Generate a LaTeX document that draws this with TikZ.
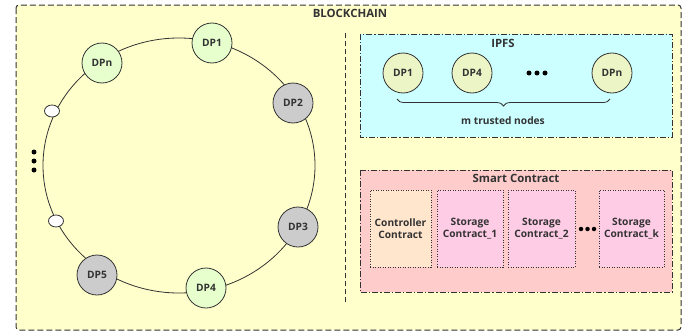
\documentclass[tikz,border=0pt]{standalone}
\usepackage{fontspec}
\setmainfont{Open Sans}
\usetikzlibrary{decorations.pathreplacing,shapes.geometric}
\definecolor{bcfill}{HTML}{FFFFCC}
\definecolor{gnode}{HTML}{E6FFCC}
\definecolor{ipnode}{HTML}{ECF5C6}
\definecolor{grnode}{HTML}{CCCCCC}
\definecolor{ipfsfill}{HTML}{CCFFFF}
\definecolor{scfill}{HTML}{FFCCCC}
\definecolor{ctrlfill}{HTML}{FFE6CC}
\definecolor{stfill}{HTML}{FFCCE6}
\definecolor{ln}{HTML}{333333}
\tikzset{
  txt/.style={font=\fontsize{10.2}{12}\selectfont\bfseries, text=ln},
  titletxt/.style={font=\fontsize{11.4}{13}\selectfont\bfseries, text=ln},
  dpnode/.style={circle, draw=ln, line width=0.8pt, minimum size=40pt, inner sep=0pt, txt},
  greennode/.style={dpnode, fill=gnode},
  graynode/.style={dpnode, fill=grnode},
  ipfsnode/.style={dpnode, fill=ipnode},
  hole/.style={ellipse, draw=ln, line width=0.8pt, fill=white, minimum width=15pt, minimum height=12pt, inner sep=0pt},
  dotmark/.style={circle, fill=black, minimum size=5pt, inner sep=0pt},
  contract/.style={draw=ln, line width=0.8pt, dash pattern=on 1pt off 1.5pt, align=center, txt, inner sep=0pt},
  groupbox/.style={draw=ln, line width=0.8pt, dash pattern=on 6pt off 2pt on 1.2pt off 2pt},
}
\begin{document}
\begin{tikzpicture}[x=1pt,y=-1pt]
\useasboundingbox (0,0) rectangle (700,332);
% outer blockchain box
\draw[fill=bcfill, draw=ln, line width=1pt, dash pattern=on 6pt off 3pt, rounded corners=3pt] (16,5) rectangle (681,330);
\node[titletxt, anchor=north] (bclabel) at (350,5.5) {BLOCKCHAIN};
% separator
\draw[draw=ln, line width=0.8pt, dash pattern=on 5pt off 3pt] (345,33) -- (345,302);
% ring
\draw[draw=ln, line width=0.8pt] (179,165.5) ellipse [x radius=136, y radius=127.5];
\node[greennode] (r1) at (212,43) {DP1};
\node[greennode] (rn) at (102,63) {DPn};
\node[graynode] (r2) at (293,103) {DP2};
\node[graynode] (r3) at (298,227) {DP3};
\node[greennode] (r4) at (206,288) {DP4};
\node[graynode] (r5) at (97,275) {DP5};
\node[hole] (h1) at (52,111) {};
\node[hole] (h2) at (56,221) {};
\node[dotmark] (ld1) at (34,152) {};
\node[dotmark] (ld2) at (34,161) {};
\node[dotmark] (ld3) at (34,170) {};
% IPFS
\draw[groupbox, fill=ipfsfill] (360,34) rectangle (672,137);
\node[titletxt] (ipfslabel) at (503,43) {IPFS};
\node[ipfsnode] (i1) at (403,73) {DP1};
\node[ipfsnode] (i4) at (472,73) {DP4};
\node[dotmark] (id1) at (529,73) {};
\node[dotmark] (id2) at (537,73) {};
\node[dotmark] (id3) at (545,73) {};
\node[ipfsnode] (in) at (612,73) {DPn};
\draw[draw=ln, line width=0.8pt, decorate, decoration={brace, mirror, amplitude=7pt}] (397,99) -- (610,99);
\node[txt] (trusted) at (503,121) {m trusted nodes};
% Smart contract
\draw[groupbox, fill=scfill] (360,170) rectangle (672,292);
\node[titletxt] (sclabel) at (516,178.5) {Smart Contract};
\node[contract, fill=ctrlfill, minimum width=61pt, minimum height=77pt] (ctrl) at (400.5,228.5) {Controller\\Contract};
\node[contract, fill=stfill, minimum width=66pt, minimum height=77pt] (s1) at (470,228.5) {Storage\\Contract\_1};
\node[contract, fill=stfill, minimum width=67pt, minimum height=77pt] (s2) at (541.5,228.5) {Storage\\Contract\_2};
\node[contract, fill=stfill, minimum width=65pt, minimum height=77pt] (sk) at (631.5,228.5) {Storage\\Contract\_k};
\node[dotmark, minimum size=4.5pt] (sd1) at (581,229) {};
\node[dotmark, minimum size=4.5pt] (sd2) at (587.5,229) {};
\node[dotmark, minimum size=4.5pt] (sd3) at (594,229) {};
\end{tikzpicture}
\end{document}
